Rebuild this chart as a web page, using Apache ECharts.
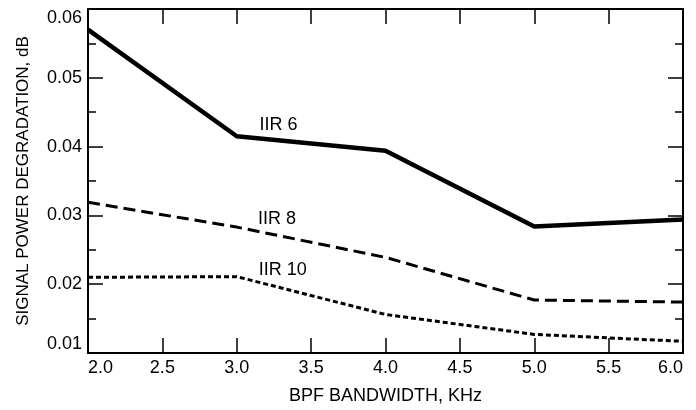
<!DOCTYPE html>
<html><head><meta charset="utf-8">
<script src="https://cdn.jsdelivr.net/npm/echarts@6/dist/echarts.min.js"></script>
<style>html,body{margin:0;padding:0;background:#fff}#c{width:696px;height:410px}</style>
</head><body><div id="c"></div>
<script>
const bandwidth = [2.0, 3.0, 4.0, 5.0, 6.0];
const iir6 = [0.0570, 0.0415, 0.0394, 0.0284, 0.0294];
const iir8 = [0.0319, 0.0283, 0.0239, 0.0177, 0.0174];
const iir10 = [0.0210, 0.0211, 0.0156, 0.0127, 0.0117];
const seriesNames = ['IIR 6', 'IIR 8', 'IIR 10'];
const labelAt = [[3.28, 0.0431], [3.27, 0.0295], [3.31, 0.0220]];
const xTitle = 'BPF BANDWIDTH, KHz';
const yTitle = 'SIGNAL POWER DEGRADATION, dB';

const font = 'Liberation Sans, Arial, sans-serif';
const chart = echarts.init(document.getElementById('c'), null, {renderer: 'canvas'});
const pair = v => bandwidth.map((x, i) => [x, v[i]]);
const lineStyles = [
  {width: 4.5, type: 'solid'},
  {width: 3, type: [12, 6]},
  {width: 3, type: [5, 3]}
];
const vals = [iir6, iir8, iir10];
const axisLine = {show: true, lineStyle: {color: '#000', width: 2}};
option = {
  animation: false,
  grid: {left: 88, right: 13, top: 9, bottom: 57},
  xAxis: [
    {type: 'value', min: 2.0, max: 6.0, interval: 0.5, position: 'bottom',
     name: xTitle, nameLocation: 'middle', nameGap: 34,
     nameTextStyle: {fontFamily: font, fontSize: 18, color: '#000'},
     axisLine, axisTick: {inside: true, length: 15, lineStyle: {color: '#000', width: 1.5}},
     axisLabel: {fontFamily: font, fontSize: 18, color: '#000', margin: 6,
       alignMinLabel: 'left', alignMaxLabel: 'right', formatter: v => v.toFixed(1)},
     splitLine: {show: false}},
    {type: 'value', min: 2.0, max: 6.0, interval: 0.5, position: 'top',
     axisLine, axisTick: {inside: true, length: 15, lineStyle: {color: '#000', width: 1.5}},
     axisLabel: {show: false}, splitLine: {show: false}}
  ],
  yAxis: [
    {type: 'value', min: 0.01, max: 0.06, interval: 0.01, position: 'left',
     name: yTitle, nameLocation: 'middle', nameGap: 56,
     nameTextStyle: {fontFamily: font, fontSize: 17, color: '#000'},
     axisLine, axisTick: {inside: true, length: 15, lineStyle: {color: '#000', width: 1.5}},
     minorTick: {show: true, splitNumber: 2, length: 8, lineStyle: {color: '#000', width: 1.5}},
     axisLabel: {fontFamily: font, fontSize: 18, color: '#000', margin: 6,
       verticalAlignMinLabel: 'bottom', verticalAlignMaxLabel: 'top', formatter: v => v.toFixed(2)},
     splitLine: {show: false}},
    {type: 'value', min: 0.01, max: 0.06, interval: 0.01, position: 'right',
     axisLine, axisTick: {inside: true, length: 15, lineStyle: {color: '#000', width: 1.5}},
     minorTick: {show: true, splitNumber: 2, length: 8, lineStyle: {color: '#000', width: 1.5}},
     axisLabel: {show: false}, splitLine: {show: false}}
  ],
  series: seriesNames.map((n, i) => ({
    name: n, type: 'line', data: pair(vals[i]), symbol: 'none',
    lineStyle: Object.assign({color: '#000'}, lineStyles[i]),
    markPoint: {
      symbol: 'circle', symbolSize: 0,
      label: {show: true, formatter: n, color: '#000', fontFamily: font, fontSize: 18, position: 'inside'},
      data: [{coord: labelAt[i]}]
    }
  }))
};
chart.setOption(option);
</script></body></html>
